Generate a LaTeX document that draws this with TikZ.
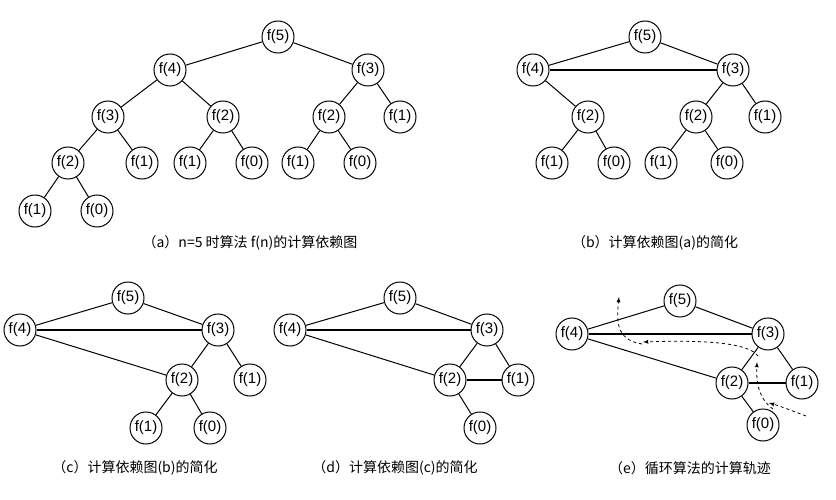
\documentclass[tikz,border=0pt]{standalone}
\usepackage{fontspec}
\setmainfont{Liberation Sans}
\newfontfamily\cjk{Noto Sans CJK SC}
\begin{document}
\begin{tikzpicture}[x=1pt,y=-1pt,
  n/.style={circle,draw,line width=1pt,minimum size=32pt,inner sep=0pt,font=\fontsize{15}{15}\selectfont},
  e/.style={line width=1pt},
  h/.style={line width=1.6pt},
  captxt/.style={font=\fontsize{14}{14}\selectfont\cjk},
  tr/.style={dashed,line width=0.8pt,-latex}]
\useasboundingbox (0,0) rectangle (836,500);
% (a)
\node[n] (a5) at (278,37) {f(5)};
\node[n] (a4) at (170,70) {f(4)};
\node[n] (a3) at (368,70) {f(3)};
\node[n] (a33) at (108,117) {f(3)};
\node[n] (a22) at (223,117) {f(2)};
\node[n] (a23) at (329,117) {f(2)};
\node[n] (a13) at (400,117) {f(1)};
\node[n] (a24) at (68,163) {f(2)};
\node[n] (a14) at (142,163) {f(1)};
\node[n] (a15) at (190,163) {f(1)};
\node[n] (a05) at (252,163) {f(0)};
\node[n] (a16) at (298,163) {f(1)};
\node[n] (a06) at (360,163) {f(0)};
\node[n] (a17) at (35,211) {f(1)};
\node[n] (a07) at (97,211) {f(0)};
\draw[e] (a5)--(a4) (a5)--(a3) (a4)--(a33) (a4)--(a22) (a3)--(a23) (a3)--(a13)
 (a33)--(a24) (a33)--(a14) (a22)--(a15) (a22)--(a05) (a23)--(a16) (a23)--(a06)
 (a24)--(a17) (a24)--(a07);
\node[captxt] (ca) at (250,243) {（a）n=5 时算法 f(n)的计算依赖图};
% (b)
\node[n] (b5) at (645,37) {f(5)};
\node[n] (b4) at (533,70) {f(4)};
\node[n] (b3) at (733,70) {f(3)};
\node[n] (b2) at (588,117) {f(2)};
\node[n] (b22) at (696,117) {f(2)};
\node[n] (b1) at (765,117) {f(1)};
\node[n] (b11) at (552,163) {f(1)};
\node[n] (b01) at (614,163) {f(0)};
\node[n] (b12) at (661,163) {f(1)};
\node[n] (b02) at (727,163) {f(0)};
\draw[e] (b5)--(b4) (b5)--(b3) (b4)--(b2) (b3)--(b22) (b3)--(b1)
 (b2)--(b11) (b2)--(b01) (b22)--(b12) (b22)--(b02);
\draw[h] (b4)--(b3);
\node[captxt] (cb) at (655,243) {（b）计算依赖图(a)的简化};
% (c)
\node[n] (c5) at (128,298) {f(5)};
\node[n] (c4) at (20,330) {f(4)};
\node[n] (c3) at (218,330) {f(3)};
\node[n] (c2) at (182,380) {f(2)};
\node[n] (c1) at (250,380) {f(1)};
\node[n] (c11) at (146,428) {f(1)};
\node[n] (c0) at (210,428) {f(0)};
\draw[e] (c5)--(c4) (c5)--(c3) (c4)--(c2) (c3)--(c2) (c3)--(c1) (c2)--(c11) (c2)--(c0);
\draw[h] (c4)--(c3);
\node[captxt] (cc) at (135,468) {（c）计算依赖图(b)的简化};
% (d)
\node[n] (d5) at (400,298) {f(5)};
\node[n] (d4) at (290,330) {f(4)};
\node[n] (d3) at (487,330) {f(3)};
\node[n] (d2) at (450,380) {f(2)};
\node[n] (d1) at (518,380) {f(1)};
\node[n] (d0) at (480,428) {f(0)};
\draw[e] (d5)--(d4) (d5)--(d3) (d4)--(d2) (d3)--(d2) (d3)--(d1) (d2)--(d0);
\draw[h] (d4)--(d3) (d2)--(d1);
\node[captxt] (cd) at (395,468) {（d）计算依赖图(c)的简化};
% (e)
\node[n] (e5) at (680,301) {f(5)};
\node[n] (e4) at (572,334) {f(4)};
\node[n] (e3) at (768,334) {f(3)};
\node[n] (e2) at (732,383) {f(2)};
\node[n] (e1) at (802,383) {f(1)};
\node[n] (e0) at (763,425) {f(0)};
\draw[e] (e5)--(e4) (e5)--(e3) (e4)--(e2) (e3)--(e2) (e3)--(e1) (e2)--(e0);
\draw[h] (e4)--(e3) (e2)--(e1);
\coordinate (t1) at (806,416);
\coordinate (t2) at (769,403);
\draw[tr] (t1) .. controls (790,410) and (780,406) .. (t2);
\coordinate (t3) at (773,409);
\coordinate (t4) at (757,362);
\draw[tr] (t3) .. controls (760,400) and (756,385) .. (t4);
\coordinate (t5) at (758,356);
\coordinate (t6) at (643,342);
\draw[tr] (t5) .. controls (748,342) and (700,340) .. (t6);
\coordinate (t7) at (642,344);
\coordinate (t8) at (619,297);
\draw[tr] (t7) .. controls (618,340) and (616,325) .. (t8);
\node[captxt] (ce) at (690,468) {（e）循环算法的计算轨迹};
\end{tikzpicture}
\end{document}
